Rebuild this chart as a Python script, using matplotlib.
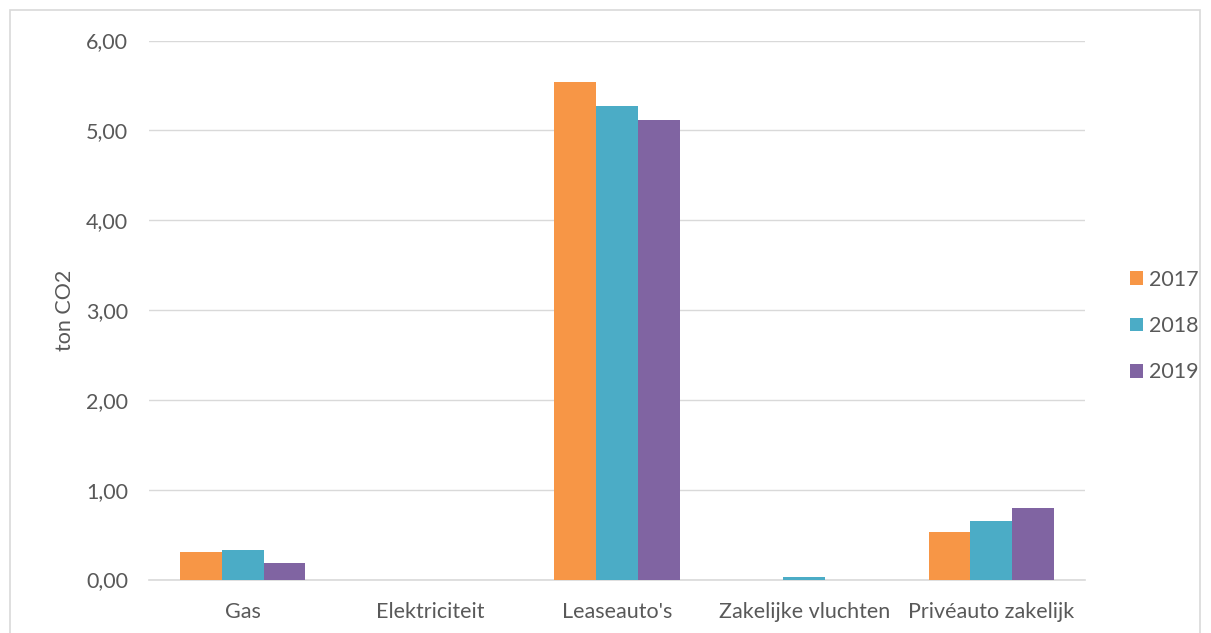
import numpy as np
import matplotlib.pyplot as plt
from matplotlib.patches import Rectangle

categories = ["Gas", "Elektriciteit", "Leaseauto's", "Zakelijke vluchten", "Privéauto zakelijk"]
years = ["2017", "2018", "2019"]
v2017 = [0.31, 0.0, 5.54, 0.0, 0.53]
v2018 = [0.33, 0.0, 5.27, 0.03, 0.65]
v2019 = [0.18, 0.0, 5.12, 0.0, 0.80]
colors = ["#f79646", "#4bacc6", "#8064a2"]

plt.rcParams['font.family'] = ['Lato', 'DejaVu Sans']
txt = '#595959'
fs = 15.5

fig = plt.figure(figsize=(12.11, 6.33), dpi=100)
ax = fig.add_axes([149/1211, 1-579.5/633, (1085-149)/1211, (579.5-40.5)/633])

x = np.arange(len(categories))
w = 0.224
for i, (vals, yr) in enumerate(zip([v2017, v2018, v2019], years)):
    ax.bar(x + (i-1)*w, vals, w, color=colors[i], label=yr, zorder=3)

ax.set_xlim(-0.5, len(categories)-0.5)
ax.set_ylim(0, 6)
ax.set_yticks(np.arange(0, 7, 1))
ax.set_yticklabels([("%.2f" % t).replace('.', ',') for t in np.arange(0, 7, 1)])
ax.set_xticks(x)
ax.set_xticklabels(categories)
ax.tick_params(axis='both', length=0, labelsize=fs, colors=txt)
ax.tick_params(axis='y', pad=15)
ax.tick_params(axis='x', pad=16)
ax.grid(axis='y', color='#d9d9d9', linewidth=1, zorder=0)
for s in ['top', 'right', 'left']:
    ax.spines[s].set_visible(False)
ax.spines['bottom'].set_color('#d9d9d9')
ax.spines['bottom'].set_linewidth(1.2)
ax.set_ylabel('ton CO2', fontsize=fs, color=txt, labelpad=8)

leg = ax.legend(loc='center left', bbox_to_anchor=(1.048, 0.47), frameon=False,
                fontsize=fs, handlelength=0.6, handleheight=0.6, handletextpad=0.3,
                labelspacing=1.22, borderpad=0, borderaxespad=0, labelcolor=txt)

fig.patches.append(Rectangle((10/1211, -0.1), 1190/1211, 1.1-10/633, transform=fig.transFigure,
                             fill=False, edgecolor='#d9d9d9', linewidth=1.2))

fig.savefig('out.png', dpi=100)
